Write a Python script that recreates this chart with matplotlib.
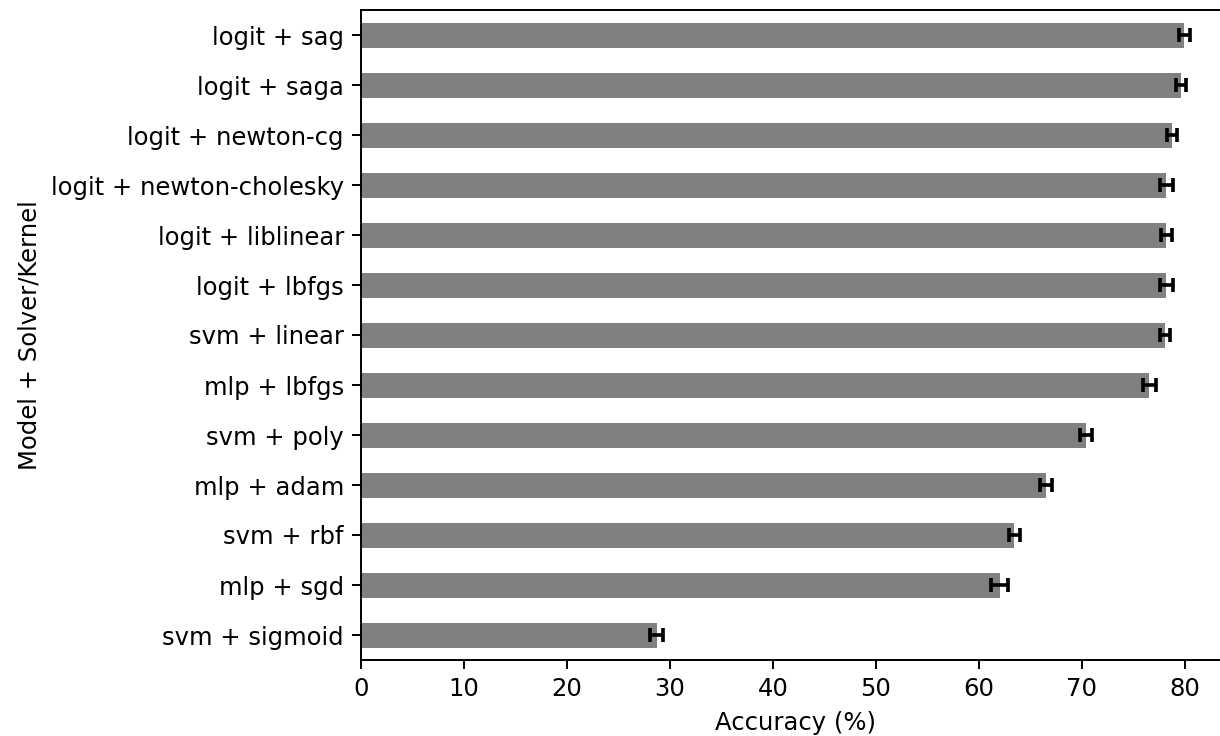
import numpy as np
from matplotlib import pyplot as plt

# bottom to top, as in the picture
labels = ["svm + sigmoid", "mlp + sgd", "svm + rbf", "mlp + adam", "svm + poly",
          "mlp + lbfgs", "svm + linear", "logit + lbfgs", "logit + liblinear",
          "logit + newton-cholesky", "logit + newton-cg", "logit + saga", "logit + sag"]
accuracy = [28.7, 62.0, 63.45, 66.5, 70.4, 76.55, 78.05, 78.2, 78.2, 78.2, 78.75, 79.6, 79.95]
errors = [0.65, 0.85, 0.5, 0.6, 0.55, 0.6, 0.5, 0.6, 0.5, 0.6, 0.5, 0.5, 0.5]

dpi = 175
fig = plt.figure(figsize=(1220 / dpi, 736 / dpi), dpi=dpi)
ax = fig.add_axes([361 / 1220, 1 - 660 / 736, 870 / 1220, 650 / 736])

y = np.arange(len(labels))
ax.barh(y, accuracy, height=0.5, color="gray", xerr=errors,
        error_kw=dict(ecolor="black", capsize=3, elinewidth=1.5, capthick=1.5))
ax.set_yticks(y)
ax.set_yticklabels(labels)
ax.set_ylim(-0.5, len(labels) - 0.5)
ax.set_xticks(np.arange(0, 81, 10))
ax.set_xlabel("Accuracy (%)")
ax.set_ylabel("Model + Solver/Kernel")

fig.savefig("out.png", dpi=dpi)
